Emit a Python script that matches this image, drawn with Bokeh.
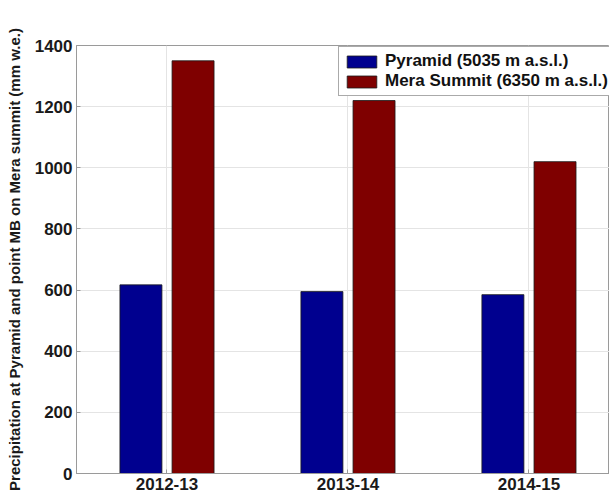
from bokeh.plotting import figure
from bokeh.models import Range1d, FixedTicker, ColumnDataSource
from bokeh.transform import dodge
from bokeh.embed import file_html
from bokeh.resources import INLINE

seasons = ["2012-13", "2013-14", "2014-15"]
pyramid = [617, 595, 585]
mera = [1350, 1220, 1020]
y_ticks = [0, 200, 400, 600, 800, 1000, 1200, 1400]

xs = list(range(1, len(seasons) + 1))
src = ColumnDataSource(dict(x=xs, pyramid=pyramid, mera=mera))

FONT = "Liberation Sans"

p = figure(width=609, height=500, output_backend="svg", toolbar_location=None,
           x_range=Range1d(0.5, 3.445), y_range=Range1d(0, 1400),
           min_border_left=76, min_border_top=45, min_border_right=0, min_border_bottom=27,
           background_fill_color="white", border_fill_color="white")

bw = 0.232
p.vbar(x=dodge("x", -0.144, range=p.x_range), top="pyramid", width=bw, source=src,
       fill_color="#00008F", line_color="#1a1a1a", line_width=0.8,
       legend_label="Pyramid (5035 m a.s.l.)")
p.vbar(x=dodge("x", 0.144, range=p.x_range), top="mera", width=bw, source=src,
       fill_color="#7F0000", line_color="#1a1a1a", line_width=0.8,
       legend_label="Mera Summit (6350 m a.s.l.)")

p.xaxis.ticker = FixedTicker(ticks=xs)
p.xaxis.major_label_overrides = {x: s for x, s in zip(xs, seasons)}
p.yaxis.ticker = FixedTicker(ticks=y_ticks)

for ax in (p.xaxis, p.yaxis):
    ax.major_label_text_font = FONT
    ax.major_label_text_font_style = "bold"
    ax.major_label_text_font_size = "17px"
    ax.major_label_text_color = "#1a1a1a"
    ax.major_tick_in = 4
    ax.major_tick_out = 0
    ax.minor_tick_in = 0
    ax.minor_tick_out = 0
    ax.axis_line_color = "#9a9a9a"
    ax.major_tick_line_color = "#9a9a9a"

p.xaxis.major_label_standoff = 4
p.yaxis.major_label_standoff = 4
p.yaxis.axis_label = "Precipitation at Pyramid and point MB on Mera summit (mm w.e.)"
p.yaxis.axis_label_text_font = FONT
p.yaxis.axis_label_text_font_style = "bold"
p.yaxis.axis_label_text_font_size = "15px"
p.yaxis.axis_label_text_color = "#1a1a1a"
p.yaxis.axis_label_standoff = 9

p.xgrid.grid_line_color = "#e4e4e4"
p.ygrid.grid_line_color = "#e4e4e4"
p.outline_line_color = "#9a9a9a"

lg = p.legend[0]
lg.location = (262, 377)
lg.margin = 0
lg.padding = 4
lg.spacing = 0
lg.glyph_width = 37
lg.glyph_height = 15
lg.label_height = 18
lg.label_standoff = 5
lg.label_text_font = FONT
lg.label_text_font_style = "bold"
lg.label_text_font_size = "17px"
lg.label_text_color = "#111111"
lg.border_line_color = "#555555"
lg.background_fill_color = "white"
lg.background_fill_alpha = 1.0

open("out.html", "w").write(file_html(p, INLINE))
